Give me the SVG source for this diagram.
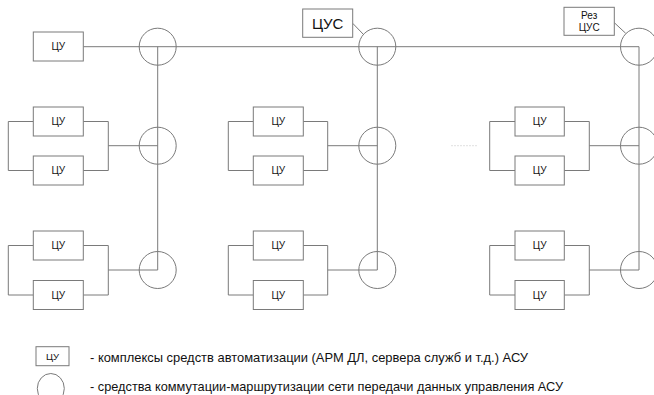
<svg xmlns="http://www.w3.org/2000/svg" width="654" height="395" viewBox="0 0 654 395">
<style>
.box{fill:#fff;stroke:#7a7a7a;stroke-width:1}
.sw{fill:none;stroke:#7a7a7a;stroke-width:1}
.ln{fill:none;stroke:#7a7a7a;stroke-width:1}
.t{font-family:"Liberation Sans",Arial,sans-serif;font-size:10px;fill:#111;text-anchor:middle;dominant-baseline:central}
.lg{font-family:"Liberation Sans",Arial,sans-serif;font-size:12.6px;fill:#111;dominant-baseline:central}
</style>
<rect width="654" height="395" fill="#fff"/>
<g id="connectors">
<path class="ln" d="M83.3,46.7H639"/>
<path class="ln" d="M157.7,46.7V270M377.3,46.7V270M639,46.7V270"/>
<path class="ln" d="M108.3,145.7H157.7M108.3,270H157.7M327.7,145.7H377.3M327.7,270H377.3M589.3,145.7H639M589.3,270H639"/>
<path class="ln" d="M33.3,121.5H8.3V170.5H33.3M83.3,121.5H108.3V170.5H83.3"/>
<path class="ln" d="M33.3,245.5H8.3V295H33.3M83.3,245.5H108.3V295H83.3"/>
<path class="ln" d="M253.3,121.5H228.3V170.5H253.3M303.3,121.5H327.7V170.5H303.3"/>
<path class="ln" d="M253.3,245.5H228.3V295H253.3M303.3,245.5H327.7V295H303.3"/>
<path class="ln" d="M515,121.5H489.7V170.5H515M564.3,121.5H589.3V170.5H564.3"/>
<path class="ln" d="M515,245.5H489.7V295H515M564.3,245.5H589.3V295H564.3"/>
<path class="ln" d="M352.7,23.3L364,35M614.3,22.7L625.7,33.3"/>
<path d="M451,145.7H477" stroke="#e0e0e0" stroke-width="1" stroke-dasharray="2 1"/>
</g>
<g id="sw1-1"><circle class="sw" cx="157.7" cy="46.7" r="18.5"/></g>
<g id="sw1-2"><circle class="sw" cx="157.7" cy="145.7" r="18.5"/></g>
<g id="sw1-3"><circle class="sw" cx="157.7" cy="270" r="18.5"/></g>
<g id="sw2-1"><circle class="sw" cx="377.3" cy="46.7" r="18.5"/></g>
<g id="sw2-2"><circle class="sw" cx="377.3" cy="145.7" r="18.5"/></g>
<g id="sw2-3"><circle class="sw" cx="377.3" cy="270" r="18.5"/></g>
<g id="sw3-1"><circle class="sw" cx="639" cy="46.7" r="18.5"/></g>
<g id="sw3-2"><circle class="sw" cx="639" cy="145.7" r="18.5"/></g>
<g id="sw3-3"><circle class="sw" cx="639" cy="270" r="18.5"/></g>
<g id="cu1-1"><rect class="box" x="33.3" y="32" width="50" height="29"/><text class="t" x="58.3" y="46.5">ЦУ</text></g>
<g id="cu1-2a"><rect class="box" x="33.3" y="107" width="50" height="29"/><text class="t" x="58.3" y="121.5">ЦУ</text></g>
<g id="cu1-2b"><rect class="box" x="33.3" y="156" width="50" height="29"/><text class="t" x="58.3" y="170.5">ЦУ</text></g>
<g id="cu1-3a"><rect class="box" x="33.3" y="231" width="50" height="29"/><text class="t" x="58.3" y="245.5">ЦУ</text></g>
<g id="cu1-3b"><rect class="box" x="33.3" y="280.5" width="50" height="29"/><text class="t" x="58.3" y="295">ЦУ</text></g>
<g id="cu2-2a"><rect class="box" x="253.3" y="107" width="50" height="29"/><text class="t" x="278.3" y="121.5">ЦУ</text></g>
<g id="cu2-2b"><rect class="box" x="253.3" y="156" width="50" height="29"/><text class="t" x="278.3" y="170.5">ЦУ</text></g>
<g id="cu2-3a"><rect class="box" x="253.3" y="231" width="50" height="29"/><text class="t" x="278.3" y="245.5">ЦУ</text></g>
<g id="cu2-3b"><rect class="box" x="253.3" y="280.5" width="50" height="29"/><text class="t" x="278.3" y="295">ЦУ</text></g>
<g id="cu3-2a"><rect class="box" x="515" y="107" width="49.3" height="29"/><text class="t" x="539.7" y="121.5">ЦУ</text></g>
<g id="cu3-2b"><rect class="box" x="515" y="156" width="49.3" height="29"/><text class="t" x="539.7" y="170.5">ЦУ</text></g>
<g id="cu3-3a"><rect class="box" x="515" y="231" width="49.3" height="29"/><text class="t" x="539.7" y="245.5">ЦУ</text></g>
<g id="cu3-3b"><rect class="box" x="515" y="280.5" width="49.3" height="29"/><text class="t" x="539.7" y="295">ЦУ</text></g>
<g id="cus"><rect class="box" x="302.7" y="9" width="50" height="28.3"/><text class="t" x="327.7" y="23.5" style="font-size:15px">ЦУС</text></g>
<g id="rez-cus"><rect class="box" x="564" y="7.3" width="50.3" height="28"/><text class="t" x="589.2" y="15">Рез</text><text class="t" x="589.2" y="27.3">ЦУС</text></g>
<g id="legend">
<rect class="box" x="36" y="346.7" width="33" height="19"/><text class="t" x="52.5" y="356" style="font-size:9.5px">ЦУ</text>
<ellipse class="sw" cx="50.8" cy="388.5" rx="13.5" ry="15"/>
<text class="lg" x="90" y="357.7" textLength="438" lengthAdjust="spacingAndGlyphs">- комплексы средств автоматизации (АРМ ДЛ, сервера служб и т.д.) АСУ</text>
<text class="lg" x="90" y="386.7" textLength="473" lengthAdjust="spacingAndGlyphs">- средства коммутации-маршрутизации сети передачи данных управления АСУ</text>
</g>
</svg>
